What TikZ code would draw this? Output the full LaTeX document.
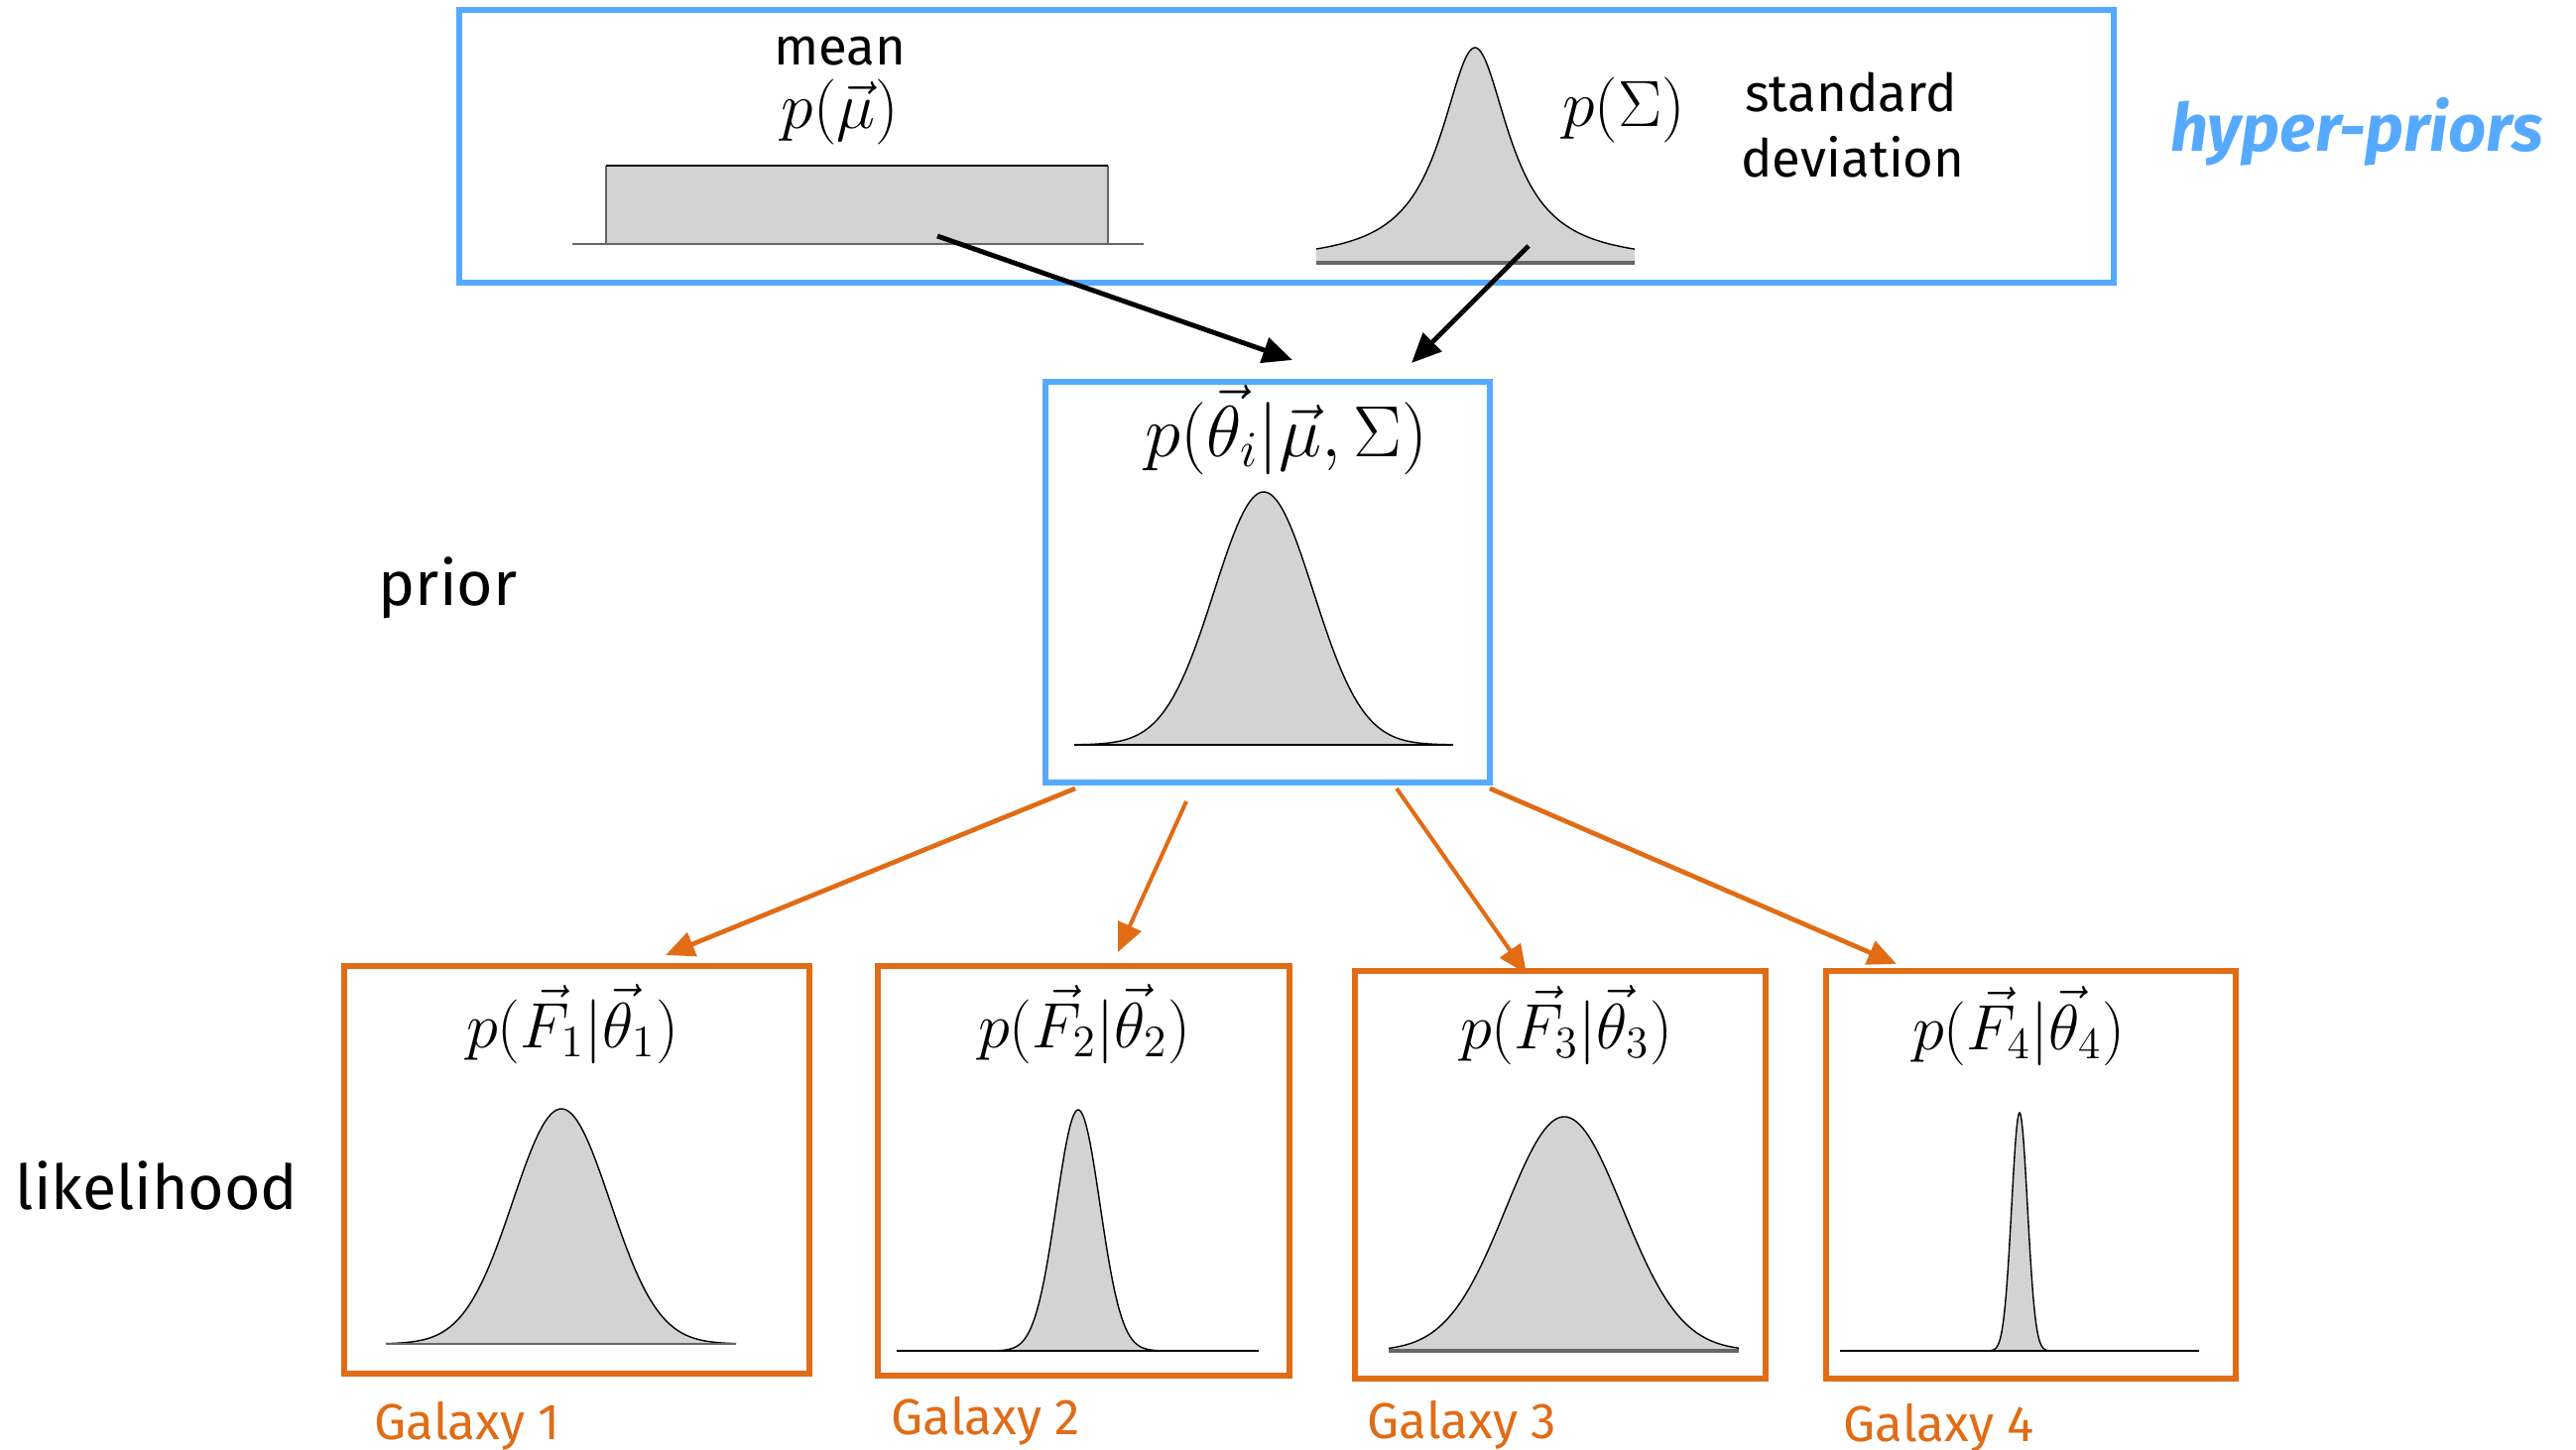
\RequirePackage{fix-cm}
\documentclass[tikz,border=0pt]{standalone}
\usepackage{amsmath, amssymb}
\usepackage{fontspec}
\setsansfont{Fira Sans}
\usepackage{tikz}
\usetikzlibrary{arrows.meta}

\definecolor{hyperblue}{RGB}{85,170,255}
\definecolor{galorange}{RGB}{224,108,22}
\definecolor{distgray}{RGB}{211,211,211}

\begin{document}
\begin{tikzpicture}[x=0.1mm, y=-0.1mm,
    bluebox/.style={draw=hyperblue, line width=1.5pt, inner sep=0},
    orangebox/.style={draw=galorange, line width=1.5pt, inner sep=0},
    txt/.style={font=\sffamily\fontsize{15}{18}\selectfont, inner sep=0, anchor=base},
    bigtxt/.style={font=\sffamily\fontsize{17.8}{21}\selectfont, inner sep=0, anchor=base west},
    galtxt/.style={font=\sffamily\fontsize{14.5}{17}\selectfont, text=galorange, inner sep=0, anchor=base west},
    fml/.style={font=\fontsize{18.4}{20}\selectfont, inner sep=0, anchor=base},
    blackarr/.style={-{Triangle[length=3mm, width=2.6mm]}, line width=1.4pt},
    orangearr/.style={-{Triangle[length=2.9mm, width=2.5mm]}, draw=galorange, line width=1.35pt},
    curve/.style={black, line width=0.4pt},
    axis/.style={draw=black!60, line width=0.7pt}
]
    \useasboundingbox (0,0) rectangle (2597,1462);

    % boxes
    \node[bluebox, minimum width=166.8mm, minimum height=27.5mm] (hyper) at (1297,147.5) {};
    \node[bluebox, minimum width=44.8mm, minimum height=40.4mm] (prior) at (1278,587) {};
    \node[orangebox, minimum width=46.9mm, minimum height=41.1mm] (gal1) at (581.5,1179.5) {};
    \node[orangebox, minimum width=41.5mm, minimum height=41.3mm] (gal2) at (1092.5,1180.5) {};
    \node[orangebox, minimum width=41.4mm, minimum height=41.1mm] (gal3) at (1573,1184.5) {};
    \node[orangebox, minimum width=41.3mm, minimum height=41.1mm] (gal4) at (2047.5,1184.5) {};

    % hyper-prior on the mean: flat
    \fill[distgray] (611,167) rectangle (1117,246);
    \draw[black!60, line width=0.5pt] (611,246) -- (611,167);
    \draw[black!60, line width=0.5pt] (1117,246) -- (1117,167);
    \draw[line width=0.8pt] (611,167) -- (1117,167);
    \draw[axis, line width=0.5pt] (577,246) -- (1153,246);

    % hyper-prior on sigma: peaked
    \fill[distgray] (1327,265) -- plot[domain=1327:1648, samples=150] (\x, {265-217/(1+((\x-1487)/42)^2)}) -- (1648,265) -- cycle;
    \draw[curve] plot[domain=1327:1648, samples=150] (\x, {265-217/(1+((\x-1487)/42)^2)});
    \draw[axis, line width=1pt] (1327,265) -- (1648,265);

    % prior
    \fill[distgray] (1083,751) -- plot[domain=1083:1465, samples=120] (\x, {751-255*exp(-((\x-1274)/50)^2/2)}) -- (1465,751) -- cycle;
    \draw[curve] plot[domain=1083:1465, samples=120] (\x, {751-255*exp(-((\x-1274)/50)^2/2)});
    \draw[axis, draw=black, line width=0.4pt] (1083,751) -- (1465,751);

    % likelihoods
    \fill[distgray] (389,1355) -- plot[domain=389:742, samples=120] (\x, {1355-237*exp(-((\x-566)/49)^2/2)}) -- (742,1355) -- cycle;
    \draw[curve] plot[domain=389:742, samples=120] (\x, {1355-237*exp(-((\x-566)/49)^2/2)});
    \draw[axis] (389,1355) -- (742,1355);

    \fill[distgray] (977,1362) -- plot[domain=977:1197, samples=120] (\x, {1362-243*exp(-((\x-1087)/22)^2/2)}) -- (1197,1362) -- cycle;
    \draw[curve] plot[domain=977:1197, samples=120] (\x, {1362-243*exp(-((\x-1087)/22)^2/2)});
    \draw[axis, draw=black, line width=0.4pt] (904,1362) -- (1269,1362);

    \fill[distgray] (1400,1362) -- plot[domain=1400:1753, samples=120] (\x, {1362-236*exp(-((\x-1577)/59)^2/2)}) -- (1753,1362) -- cycle;
    \draw[curve] plot[domain=1400:1753, samples=120] (\x, {1362-236*exp(-((\x-1577)/59)^2/2)});
    \draw[axis, line width=1pt] (1400,1362) -- (1753,1362);

    \fill[distgray] (1996,1362) -- plot[domain=1996:2076, samples=120] (\x, {1362-240*exp(-((\x-2036)/8)^2/2)}) -- (2076,1362) -- cycle;
    \draw[curve] plot[domain=1996:2076, samples=120] (\x, {1362-240*exp(-((\x-2036)/8)^2/2)});
    \draw[axis, draw=black, line width=0.4pt] (1855,1362) -- (2217,1362);

    % labels
    \node[txt] (meanlbl) at (847,65) {mean};
    \node[fml, font=\fontsize{18.8}{20}\selectfont] (mulbl) at (847,129) {$p(\vec{\mu})$};
    \node[fml, font=\fontsize{18.8}{20}\selectfont] (sigmalbl) at (1637,127) {$p(\Sigma)$};
    \node[txt] (stdlbl) at (1866,113) {standard};
    \node[txt] (devlbl) at (1868,178) {deviation};
    \node[txt, font=\sffamily\bfseries\itshape\fontsize{19}{22}\selectfont, text=hyperblue] (hyperlbl) at (2376,152) {hyper-priors};
    \node[bigtxt] (priorlbl) at (381,610) {prior};
    \node[bigtxt] (likelbl) at (15,1219) {likelihood};

    \node[fml, font=\fontsize{20.8}{22}\selectfont] (priorfml) at (1297,460) {$p(\vec{\theta}_i|\vec{\mu},\Sigma)$};
    \node[fml] (fml1) at (577,1056) {$p(\vec{F}_1|\vec{\theta}_1)$};
    \node[fml] (fml2) at (1093,1056) {$p(\vec{F}_2|\vec{\theta}_2)$};
    \node[fml] (fml3) at (1579,1057) {$p(\vec{F}_3|\vec{\theta}_3)$};
    \node[fml] (fml4) at (2035,1058) {$p(\vec{F}_4|\vec{\theta}_4)$};

    \node[galtxt] (galname1) at (377,1451) {Galaxy 1};
    \node[galtxt] (galname2) at (898,1446) {Galaxy 2};
    \node[galtxt] (galname3) at (1378,1450) {Galaxy 3};
    \node[galtxt] (galname4) at (1858,1453) {Galaxy 4};

    % arrows
    \coordinate (muout) at (945,238);
    \coordinate (sigout) at (1541,248);
    \coordinate (priorin1) at (1303,363);
    \coordinate (priorin2) at (1423,366);
    \draw[blackarr] (muout) -- (priorin1);
    \draw[blackarr] (sigout) -- (priorin2);

    \coordinate (priorout1) at (1084,795);
    \coordinate (priorout2) at (1196,808);
    \coordinate (priorout3) at (1408,795);
    \coordinate (priorout4) at (1502,795);
    \coordinate (galin1) at (671,963);
    \coordinate (galin2) at (1127,960);
    \coordinate (galin3) at (1539,982);
    \coordinate (galin4) at (1912,972);
    \draw[orangearr] (priorout1) -- (galin1);
    \draw[orangearr, line width=1.15pt] (priorout2) -- (galin2);
    \draw[orangearr, line width=1.15pt] (priorout3) -- (galin3);
    \draw[orangearr] (priorout4) -- (galin4);
\end{tikzpicture}
\end{document}
